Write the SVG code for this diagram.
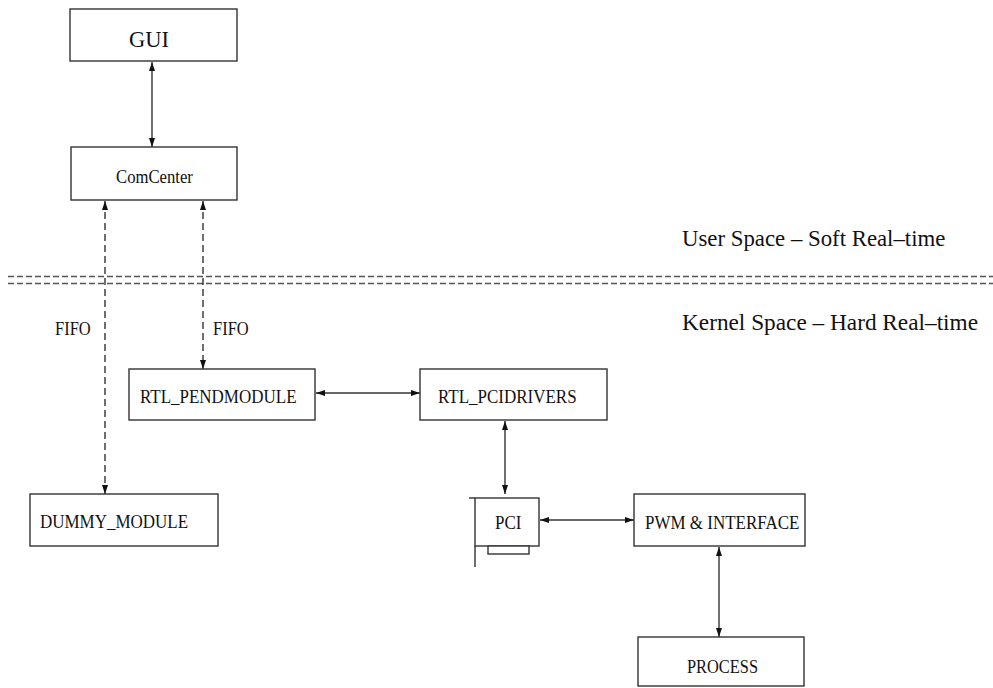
<svg xmlns="http://www.w3.org/2000/svg" width="993" height="688" viewBox="0 0 993 688">
<defs>
<style>
.box{fill:#fff;stroke:#333;stroke-width:1.4}
.ln{fill:none;stroke:#333;stroke-width:1.4}
.dash{fill:none;stroke:#222;stroke-width:1.3;stroke-dasharray:7,4}
.sep{fill:none;stroke:#555;stroke-width:1.6;stroke-dasharray:6,3}
.t{font-family:"Liberation Serif","Times New Roman",serif;fill:#111}
.lbl{font-size:17px}
.big{font-size:22.8px}
</style>
<marker id="ah" markerUnits="userSpaceOnUse" markerWidth="9" markerHeight="6" refX="9" refY="3" orient="auto-start-reverse">
<path d="M0,0 L9,3 L0,6 z" fill="#111"/>
</marker>
</defs>
<rect width="993" height="688" fill="#fff"/>
<g id="separator">
<line class="sep" x1="8" y1="276.5" x2="993" y2="276.5"/>
<line class="sep" x1="8" y1="283.5" x2="993" y2="283.5"/>
<text class="t big" x="682" y="246">User Space – Soft Real–time</text>
<text class="t big" x="682" y="330" textLength="296" lengthAdjust="spacingAndGlyphs">Kernel Space – Hard Real–time</text>
</g>
<g id="connectors">
<line class="ln" x1="152" y1="62" x2="152" y2="147" marker-start="url(#ah)" marker-end="url(#ah)"/>
<line class="dash" x1="105" y1="201" x2="105" y2="494" marker-start="url(#ah)" marker-end="url(#ah)"/>
<line class="dash" x1="203" y1="201" x2="203" y2="369" marker-start="url(#ah)" marker-end="url(#ah)"/>
<line class="ln" x1="316" y1="393" x2="420" y2="393" marker-start="url(#ah)" marker-end="url(#ah)"/>
<line class="ln" x1="505" y1="421" x2="505" y2="494" marker-start="url(#ah)" marker-end="url(#ah)"/>
<line class="ln" x1="540" y1="520" x2="634" y2="520" marker-start="url(#ah)" marker-end="url(#ah)"/>
<line class="ln" x1="719" y1="547" x2="719" y2="637" marker-start="url(#ah)" marker-end="url(#ah)"/>
<text class="t" transform="translate(55,335) scale(1,1.18)" font-size="16.5">FIFO</text>
<text class="t" transform="translate(213,335) scale(1,1.18)" font-size="16.5">FIFO</text>
</g>
<g id="gui">
<rect class="box" x="70" y="9" width="167" height="52"/>
<text class="t" x="129" y="47" font-size="22.5">GUI</text>
</g>
<g id="comcenter">
<rect class="box" x="71" y="147" width="166" height="53"/>
<text class="t" transform="translate(116,183) scale(1,1.18)" font-size="16.7">ComCenter</text>
</g>
<g id="rtl_pendmodule">
<rect class="box" x="129" y="369" width="186" height="51"/>
<text class="t lbl" transform="translate(140,403) scale(1,1.15)">RTL_PENDMODULE</text>
</g>
<g id="rtl_pcidrivers">
<rect class="box" x="420" y="369" width="187" height="51"/>
<text class="t lbl" transform="translate(438,403) scale(1,1.15)">RTL_PCIDRIVERS</text>
</g>
<g id="dummy_module">
<rect class="box" x="30" y="494" width="188" height="52"/>
<text class="t lbl" transform="translate(40,528) scale(1,1.15)">DUMMY_MODULE</text>
</g>
<g id="pci">
<rect class="box" x="475" y="498" width="64" height="48"/>
<line class="ln" x1="469" y1="498" x2="475" y2="498"/>
<line class="ln" x1="475" y1="546" x2="475" y2="567"/>
<rect class="box" x="488" y="546" width="41" height="8"/>
<text class="t lbl" transform="translate(495,529) scale(1,1.15)">PCI</text>
</g>
<g id="pwm_interface">
<rect class="box" x="634" y="494" width="171" height="52"/>
<text class="t lbl" transform="translate(645,529) scale(1,1.15)">PWM &amp; INTERFACE</text>
</g>
<g id="process">
<rect class="box" x="638" y="637" width="166" height="49"/>
<text class="t lbl" transform="translate(687,673) scale(1,1.15)" textLength="71" lengthAdjust="spacingAndGlyphs">PROCESS</text>
</g>
</svg>
